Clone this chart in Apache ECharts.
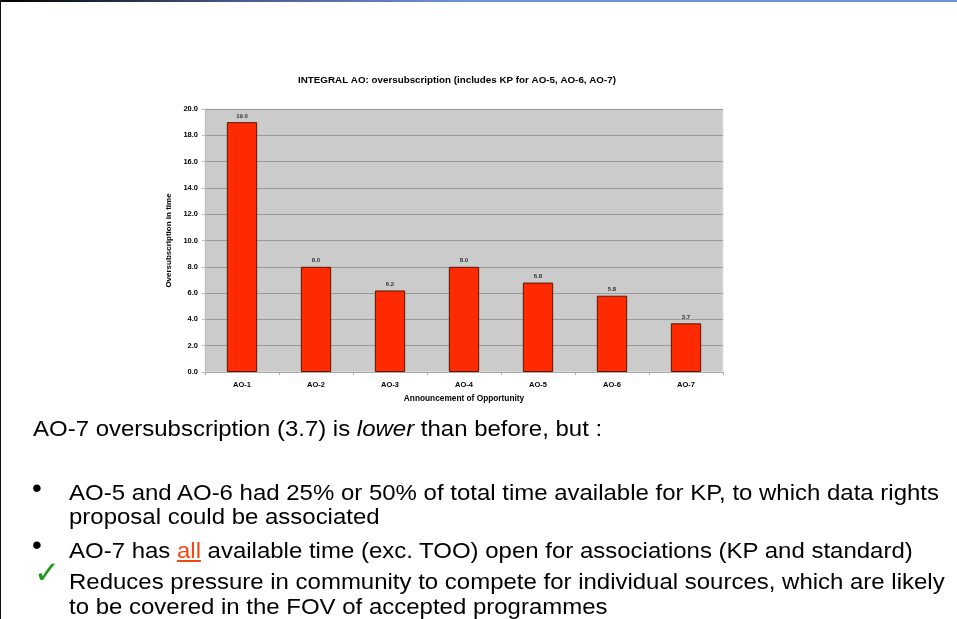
<!DOCTYPE html>
<html>
<head>
<meta charset="utf-8">
<script src="https://cdn.jsdelivr.net/npm/echarts@6/dist/echarts.min.js"></script>
<style>
  html, body { margin: 0; padding: 0; background: #fff; }
  #wrap { position: relative; width: 957px; height: 619px; overflow: hidden; background: #fff; }
  #chart { position: absolute; left: 0; top: 0; width: 957px; height: 619px; }
  .topbar { position: absolute; left: 0; top: 0; width: 957px; height: 2px;
            background: linear-gradient(to right, #000 0%, #4a5a8c 25%, #7090d8 48%, #7090d8 100%); }
  .leftbar { position: absolute; left: 0; top: 0; width: 1px; height: 619px; background: #111; }
  .t { position: absolute; font-family: "Liberation Sans", Arial, sans-serif; color: #000;
       white-space: nowrap; line-height: 24px; font-size: 22px;
       transform: scaleX(1.09); transform-origin: 0 0; }
  .dot { position: absolute; font-family: "Liberation Sans", Arial, sans-serif; font-size: 28px; line-height: 24px; }
  .chk { position: absolute; font-family: "DejaVu Sans", sans-serif; font-size: 31px; color: #1f9a1f; line-height: 30px; font-weight: bold; }
  .all { color: #f04a14; text-decoration: underline; }
</style>
</head>
<body>
<div id="wrap">
  <div id="chart"></div>
  <div class="topbar"></div>
  <div class="leftbar"></div>
  <div class="t" style="left:33px; top:417px;">AO-7 oversubscription (3.7) is <i>lower</i> than before, but :</div>
  <div class="dot" style="left:32px; top:476px;">•</div>
  <div class="t" style="left:69px; top:481px;">AO-5 and AO-6 had 25% or 50% of total time available for KP, to which data rights</div>
  <div class="t" style="left:69px; top:505px;">proposal could be associated</div>
  <div class="dot" style="left:32px; top:533px;">•</div>
  <div class="t" style="left:69px; top:539px;">AO-7 has <span class="all">all</span> available time (exc. TOO) open for associations (KP and standard)</div>
  <div class="chk" style="left:34px; top:557px;">✓</div>
  <div class="t" style="left:69px; top:570px;">Reduces pressure in community to compete for individual sources, which are likely</div>
  <div class="t" style="left:69px; top:595px;">to be covered in the FOV of accepted programmes</div>
</div>
<script>
const categories = ['AO-1', 'AO-2', 'AO-3', 'AO-4', 'AO-5', 'AO-6', 'AO-7'];
const oversubscription = [19.0, 8.0, 6.2, 8.0, 6.8, 5.8, 3.7];
const titleText = 'INTEGRAL AO: oversubscription (includes KP for AO-5, AO-6, AO-7)';
const yAxisName = 'Oversubscription in time';
const xAxisName = 'Announcement of Opportunity';

const chart = echarts.init(document.getElementById('chart'), null, { renderer: 'canvas' });
const FONT = '"Liberation Sans", Arial, sans-serif';
chart.setOption({
  animation: false,
  title: {
    text: titleText,
    left: 452, top: 70, textAlign: 'center',
    textStyle: { fontFamily: FONT, fontSize: 9.8, fontWeight: 'bold', color: '#000' }
  },
  grid: {
    left: 205, top: 109, right: 234, bottom: 247,
    show: true, backgroundColor: '#cbcbcb', borderColor: '#e6e6e6', borderWidth: 1
  },
  xAxis: {
    type: 'category',
    data: categories,
    name: xAxisName,
    nameLocation: 'middle',
    nameGap: 23,
    nameTextStyle: { fontFamily: FONT, fontSize: 8.3, fontWeight: 'bold', color: '#000' },
    axisLine: { lineStyle: { color: '#aaa', width: 1 } },
    axisTick: { show: true, alignWithLabel: false, length: 3, lineStyle: { color: '#aaa' } },
    axisLabel: { fontFamily: FONT, fontSize: 7.5, fontWeight: 'bold', color: '#000', margin: 9 }
  },
  yAxis: {
    type: 'value',
    min: 0, max: 20, interval: 2,
    name: yAxisName,
    nameLocation: 'middle',
    nameGap: 27,
    nameTextStyle: { fontFamily: FONT, fontSize: 8, fontWeight: 'bold', color: '#000' },
    axisLine: { show: true, lineStyle: { color: '#bbb', width: 1 } },
    axisTick: { show: true, length: 3, lineStyle: { color: '#bbb' } },
    axisLabel: { fontFamily: FONT, fontSize: 7.5, fontWeight: 'bold', color: '#000', margin: 7,
                 formatter: v => v.toFixed(1) },
    splitLine: { show: true, lineStyle: { color: '#9a9a9a', width: 1 } }
  },
  series: [{
    type: 'bar',
    data: oversubscription,
    barWidth: '41%',
    itemStyle: { color: '#ff2a00', borderColor: '#5a1500', borderWidth: 1 },
    label: {
      show: true, position: 'top', distance: 3,
      fontFamily: FONT, fontSize: 6, fontWeight: 'bold', color: '#333',
      formatter: p => p.value.toFixed(1)
    }
  }]
});
</script>
</body>
</html>
